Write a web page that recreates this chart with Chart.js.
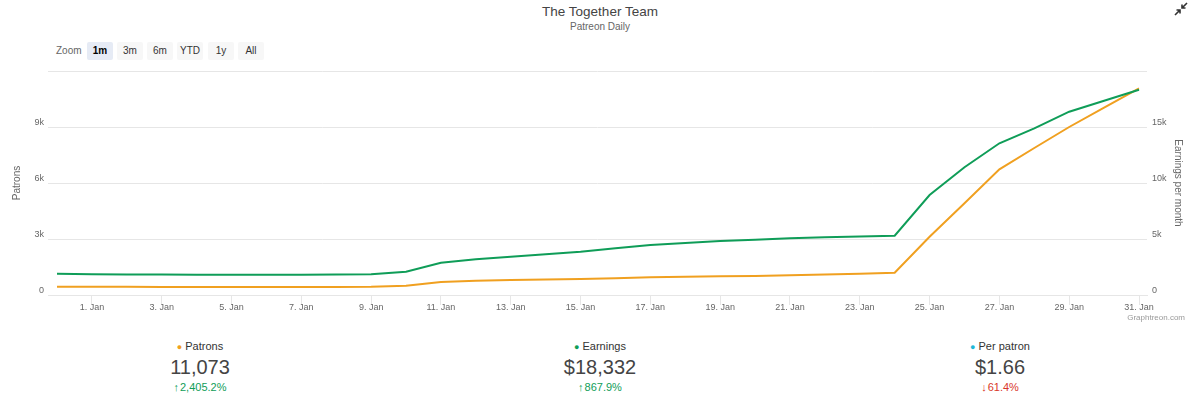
<!DOCTYPE html>
<html>
<head>
<meta charset="utf-8">
<script src="https://cdn.jsdelivr.net/npm/chart.js@4/dist/chart.umd.min.js"></script>
<style>
  body { margin: 0; width: 1200px; height: 397px; background: #fff; font-family: "Liberation Sans", Arial, sans-serif; position: relative; overflow: hidden; }
  #wrap { position: absolute; left: 0; top: 0; width: 1200px; height: 330px; }
  .title { position: absolute; left: 0; width: 1200px; text-align: center; top: 4px; font-size: 13.5px; color: #444; }
  .subtitle { position: absolute; left: 0; width: 1200px; text-align: center; top: 21px; font-size: 10px; color: #666; }
  .zoom { position: absolute; top: 42px; left: 56px; font-size: 10px; color: #333; }
  .zoom span.lbl { position: absolute; left: 0; top: 3px; color: #666; }
  .zoom .btn { position: absolute; top: 0; width: 26px; height: 18px; line-height: 18px; text-align: center; background: #f7f7f7; border-radius: 2px; }
  .zoom .btn.on { background: #e6ebf5; font-weight: bold; color: #000; }
  .credit { position: absolute; right: 15px; top: 313px; font-size: 8px; color: #999; }
  .stat { position: absolute; top: 340px; width: 400px; text-align: center; }
  .stat .name { font-size: 11px; color: #333; height: 16px; }
  .stat .dot { font-size: 9px; margin-right: 3px; }
  .stat .val { font-size: 20px; color: #444; line-height: 23px; }
  .stat .chg { font-size: 11px; line-height: 16px; }
  .stat .arr { font-weight: bold; font-size: 11px; margin-right: 1px; }
  .up { color: #0f9d58; }
  .down { color: #d9382b; }
  .icon { position: absolute; left: 1174px; top: 2px; }
</style>
</head>
<body>
<div class="title">The Together Team</div>
<div class="subtitle">Patreon Daily</div>
<svg class="icon" width="14" height="14" viewBox="0 0 14 14">
  <path d="M13 1 L8.5 5.5 M8 2.5 L8 6 L11.5 6" stroke="#333" stroke-width="1.6" fill="none"/>
  <path d="M1 13 L5.5 8.5 M6 11.5 L6 8 L2.5 8" stroke="#333" stroke-width="1.6" fill="none"/>
</svg>
<div class="zoom">
  <span class="lbl">Zoom</span>
  <div class="btn on" style="left:31px">1m</div>
  <div class="btn" style="left:61px">3m</div>
  <div class="btn" style="left:91px">6m</div>
  <div class="btn" style="left:121px">YTD</div>
  <div class="btn" style="left:152px">1y</div>
  <div class="btn" style="left:182px">All</div>
</div>
<div id="wrap"><canvas id="chart" width="1200" height="330"></canvas></div>
<div class="credit">Graphtreon.com</div>

<div class="stat" style="left:0">
  <div class="name"><span class="dot" style="color:#f0a020">●</span>Patrons</div>
  <div class="val">11,073</div>
  <div class="chg up"><span class="arr">↑</span>2,405.2%</div>
</div>
<div class="stat" style="left:400px">
  <div class="name"><span class="dot" style="color:#0f9d58">●</span>Earnings</div>
  <div class="val">$18,332</div>
  <div class="chg up"><span class="arr">↑</span>867.9%</div>
</div>
<div class="stat" style="left:800px">
  <div class="name"><span class="dot" style="color:#1fb8d8">●</span>Per patron</div>
  <div class="val">$1.66</div>
  <div class="chg down"><span class="arr">↓</span>61.4%</div>
</div>

<script>
// day 0 = 31 Dec, day 1..31 = 1..31 Jan
const days = [0, 1, 2, 3, 4, 5, 6, 7, 8, 9, 10, 11, 12, 13, 14, 15, 16, 17, 18, 19, 20, 21, 22, 23, 24, 25, 26, 27, 28, 29, 30, 31];
const patrons = [442, 440, 436, 432, 430, 428, 428, 430, 432, 436, 500, 696, 766, 804, 830, 857, 900, 948, 975, 1000, 1018, 1055, 1098, 1136, 1195, 3123, 4912, 6734, 7875, 9000, 10044, 11073];
const earnings = [1894, 1860, 1840, 1820, 1810, 1800, 1800, 1810, 1830, 1860, 2080, 2884, 3188, 3420, 3634, 3866, 4170, 4464, 4643, 4822, 4929, 5063, 5152, 5224, 5295, 8929, 11402, 13545, 14884, 16367, 17349, 18332];
const xTicks = [1, 3, 5, 7, 9, 11, 13, 15, 17, 19, 21, 23, 25, 27, 29, 31];

const font = { family: '"Liberation Sans", Arial, sans-serif', size: 9 };
const grid = '#e6e6e6';

const kLabel = (max) => (v) => v >= max ? '' : (v === 0 ? '0' : (v / 1000) + 'k');

const chartEl = document.getElementById('chart');
window.myChart = new Chart(chartEl, {
    type: 'line',
    data: {
        datasets: [
            {
                label: 'Earnings',
                data: days.map((d, i) => ({ x: d, y: earnings[i] })),
                borderColor: '#0f9d58',
                borderWidth: 2,
                pointRadius: 0,
                yAxisID: 'y1',
            },
            {
                label: 'Patrons',
                data: days.map((d, i) => ({ x: d, y: patrons[i] })),
                borderColor: '#f0a020',
                borderWidth: 2,
                pointRadius: 0,
                yAxisID: 'y',
            }
        ],
    },
    options: {
        responsive: false,
        animation: false,
        devicePixelRatio: 1,
        layout: { padding: { top: 71, left: 0, right: 0, bottom: 0 } },
        plugins: {
            legend: { display: false },
            tooltip: { enabled: false },
        },
        scales: {
            x: {
                type: 'linear',
                min: -0.258,
                max: 31.229,
                afterBuildTicks: (s) => { s.ticks = xTicks.map(v => ({ value: v })); },
                afterFit: (s) => { s.height = 35; },
                ticks: {
                    font: font,
                    color: '#666',
                    padding: -3,
                    maxRotation: 0,
                    autoSkip: false,
                    callback: (v) => v + '. Jan',
                },
                grid: { drawOnChartArea: false, tickLength: 10, color: grid },
                border: { color: grid },
            },
            y: {
                position: 'left',
                min: 0,
                max: 12000,
                afterFit: (s) => { s.width = 48; },
                ticks: { stepSize: 3000, font: font, color: '#666', padding: 4, labelOffset: -4, callback: kLabel(12000) },
                grid: { color: grid, drawTicks: false },
                border: { display: false },
                title: { display: true, text: 'Patrons', color: '#666', font: { family: font.family, size: 10 }, padding: { top: 11 } },
            },
            y1: {
                position: 'right',
                min: 0,
                max: 20000,
                afterFit: (s) => { s.width = 53; },
                ticks: { stepSize: 5000, font: font, color: '#666', padding: 5, labelOffset: -4, callback: kLabel(20000) },
                grid: { drawOnChartArea: false, drawTicks: false },
                border: { display: false },
                title: { display: true, text: 'Earnings per month', color: '#666', font: { family: font.family, size: 10 }, padding: { top: 16 } },
            },
        },
    },
});
</script>
</body>
</html>
